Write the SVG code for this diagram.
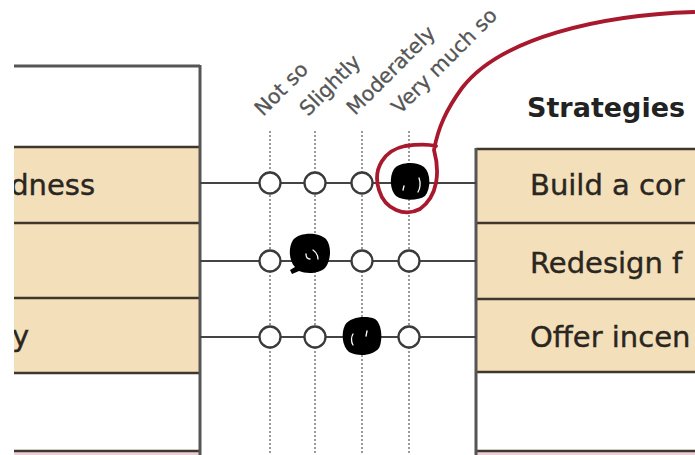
<svg xmlns="http://www.w3.org/2000/svg" width="695" height="455" viewBox="0 0 695 455">
<style>
.row{fill:#f4dfbb;}
.div{stroke:#3f372b;stroke-width:2.5;fill:none;}
.edge{stroke:#555;stroke-width:3;fill:none;}
.txt{font-family:"DejaVu Sans",sans-serif;font-size:29px;fill:#2a2620;stroke:#2a2620;stroke-width:0.4;}
.hdr{font-family:"DejaVu Sans",sans-serif;font-size:27px;font-weight:bold;fill:#222;}
.lbl{font-family:"DejaVu Sans",sans-serif;font-size:20.5px;fill:#555;stroke:#555;stroke-width:0.3;}
.conn{stroke:#444;stroke-width:2;fill:none;}
.dot{stroke:#9a9a9a;stroke-width:2;stroke-dasharray:2 2;fill:none;}
.opt{fill:#fff;stroke:#3a3a3a;stroke-width:2.3;}
.blob{fill:#000;}
.hl{stroke:#fff;stroke-width:1.3;fill:none;stroke-linecap:round;}
</style>
<defs>
<clipPath id="clipL"><rect x="14" y="0" width="190" height="455"/></clipPath>
</defs>
<rect width="695" height="455" fill="#fff"/>

<g id="left-panel" clip-path="url(#clipL)">
<rect x="0" y="66" width="200" height="81" fill="#fff"/>
<rect class="row" x="0" y="147" width="200" height="76"/>
<rect class="row" x="0" y="223" width="200" height="75"/>
<rect class="row" x="0" y="298" width="200" height="75"/>
<rect x="0" y="373" width="200" height="78" fill="#fff"/>
<rect x="0" y="452" width="200" height="5" fill="#ecd0d8"/>
<path class="edge" d="M0 66H200"/>
<path class="div" d="M0 147H200M0 223H200M0 298H200M0 373H200M0 451H200"/>
<path class="edge" d="M200 65V455"/>
<text class="txt" x="95" y="195" text-anchor="end">dness</text>
<text class="txt" x="12" y="346">y</text>
</g>

<g id="right-panel">
<text class="hdr" x="527" y="117">Strategies</text>
<rect class="row" x="476" y="149" width="230" height="74"/>
<rect class="row" x="476" y="223" width="230" height="76"/>
<rect class="row" x="476" y="299" width="230" height="73"/>
<rect x="476" y="372" width="230" height="78" fill="#fff"/>
<rect x="476" y="452" width="230" height="5" fill="#ecd0d8"/>
<path class="div" d="M476 149H700M476 223H700M476 299H700M476 372H700M476 451H700"/>
<path class="edge" d="M476 148V455"/>
<text class="txt" x="530" y="195">Build a cor</text>
<text class="txt" x="530" y="273">Redesign f</text>
<text class="txt" x="530" y="347">Offer incen</text>
</g>

<g id="scale-labels">
<text class="lbl" transform="translate(263 117) rotate(-45)">Not so</text>
<text class="lbl" transform="translate(308 117) rotate(-45)">Slightly</text>
<text class="lbl" transform="translate(355 116) rotate(-45)">Moderately</text>
<text class="lbl" transform="translate(400 115) rotate(-45)">Very much so</text>
</g>

<g id="connectors">
<path class="dot" d="M270 131V455M315 131V455M362 131V455M409 131V455"/>
<path class="conn" d="M200 183H476M200 261H476M200 337H476"/>
</g>

<g id="row1-options">
<circle class="opt" cx="270" cy="183" r="10.5"/>
<circle class="opt" cx="315" cy="183" r="10.5"/>
<circle class="opt" cx="362" cy="183" r="10.5"/>
<path class="blob" d="M394 169C400 162 416 161 424 167C431 173 431 189 425 196C418 201 403 201 396 196C390 190 389 177 394 169Z"/>
<path class="hl" d="M404 186L403 190M419 178C421 183 420 189 418 192"/>
</g>

<g id="row2-options">
<circle class="opt" cx="270" cy="261" r="10.5"/>
<circle class="opt" cx="362" cy="261" r="10.5"/>
<circle class="opt" cx="409" cy="261" r="10.5"/>
<path class="blob" d="M293 240C300 232 318 232 326 239C332 246 331 261 325 268C319 274 306 274 299 271L292 274L290 270L295 267C289 261 288 248 293 240Z"/>
<path class="hl" d="M306 254C306 257 307 259 310 259M313 250C316 252 318 256 318 259"/>
</g>

<g id="row3-options">
<circle class="opt" cx="270" cy="337" r="10.5"/>
<circle class="opt" cx="315" cy="337" r="10.5"/>
<circle class="opt" cx="409" cy="337" r="10.5"/>
<path class="blob" d="M345 325C350 317 366 315 375 319C382 324 383 340 379 348C373 356 358 357 349 352C342 346 341 333 345 325Z"/>
<path class="hl" d="M353 334C351 337 351 342 353 345M367 331L366 336"/>
</g>

<g id="annotation">
<path d="M694 12C600 15 500 38 462 88C446 110 438 128 434 150C440 172 438 196 420 209C405 217 385 210 379 190C372 168 385 150 405 146C418 144 428 144 436 146" fill="none" stroke="#a8192e" stroke-width="3.8" stroke-linecap="round" stroke-linejoin="round"/>
</g>
</svg>
